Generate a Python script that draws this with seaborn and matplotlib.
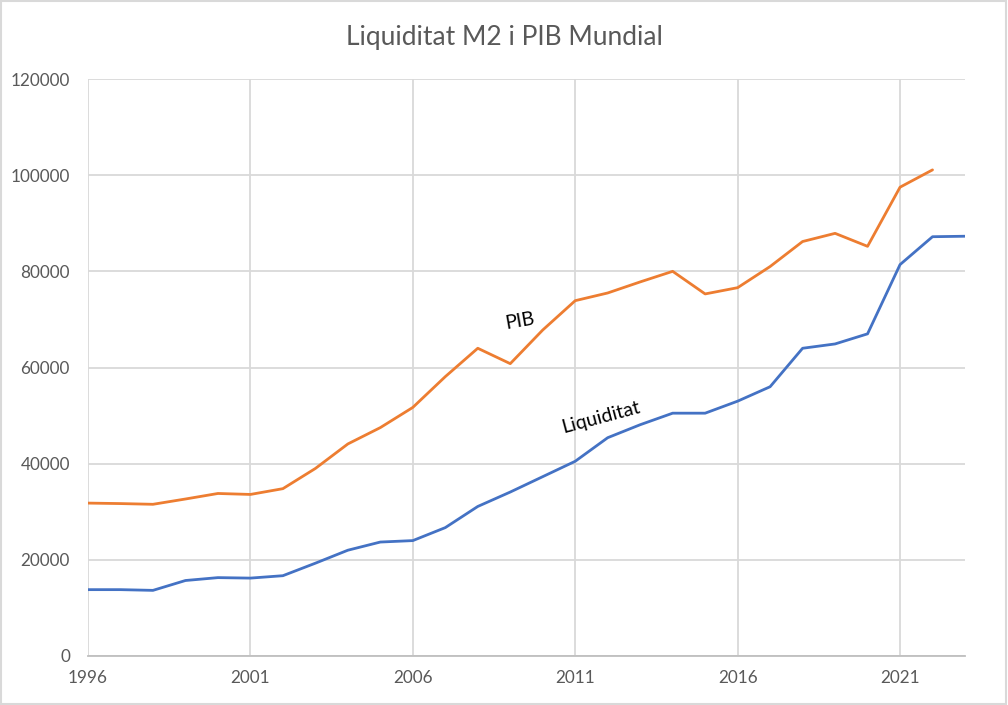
import numpy as np
import pandas as pd
import matplotlib
matplotlib.use('Agg')
import matplotlib.pyplot as plt
import seaborn as sns
from matplotlib.patches import Rectangle

# valors llegits del gràfic (anuals)
anys = list(range(1996, 2024))
liquiditat = [13800, 13800, 13650, 15700, 16300, 16200, 16700, 19300, 22000, 23700,
              24000, 26700, 31100, 34100, 37300, 40500, 45400, 48100, 50500, 50500,
              53000, 56000, 64000, 64900, 67000, 81400, 87200, 87300]
anys_pib = list(range(1996, 2023))
pib = [31800, 31700, 31550, 32650, 33800, 33600, 34800, 39000, 44100, 47500,
       51700, 58100, 64000, 60800, 67800, 73900, 75500, 77800, 80000, 75300,
       76600, 81000, 86200, 87900, 85200, 97500, 101100]

titol = 'Liquiditat M2 i PIB Mundial'
x_ticks = [1996, 2001, 2006, 2011, 2016, 2021]
y_ticks = [0, 20000, 40000, 60000, 80000, 100000, 120000]

sns.set_theme(style='white')
plt.rcParams['font.family'] = ['Lato', 'DejaVu Sans']

df_liq = pd.DataFrame({'any': anys, 'valor': liquiditat})
df_pib = pd.DataFrame({'any': anys_pib, 'valor': pib})

fig = plt.figure(figsize=(10.08, 7.05), dpi=100)
ax = fig.add_axes([88 / 1008, 1 - 656 / 705, (965 - 88) / 1008, (656 - 79) / 705])

sns.lineplot(data=df_pib, x='any', y='valor', ax=ax, color='#ED7D31', linewidth=2.0,
             solid_joinstyle='round', solid_capstyle='round')
sns.lineplot(data=df_liq, x='any', y='valor', ax=ax, color='#4472C4', linewidth=2.0,
             solid_joinstyle='round', solid_capstyle='round')

ax.set_xlim(1996, 2023)
ax.set_ylim(0, 120000)
ax.set_xticks(x_ticks)
ax.set_yticks(y_ticks)
ax.set_xticklabels([str(t) for t in x_ticks])
ax.set_yticklabels([str(t) for t in y_ticks])
ax.set_xlabel('')
ax.set_ylabel('')
ax.grid(True, color='#D9D9D9', linewidth=1.3)
ax.set_axisbelow(True)
for s in ['top', 'right', 'left']:
    ax.spines[s].set_visible(False)
ax.spines['bottom'].set_color('#BFBFBF')
ax.spines['bottom'].set_linewidth(1.3)
ax.tick_params(axis='both', length=0, labelsize=12.3, labelcolor='#595959')
ax.tick_params(axis='x', pad=10)
ax.tick_params(axis='y', pad=13)

# etiquetes de les sèries
ax.text(2009.3, 69700, 'PIB', rotation=10, fontsize=14, color='black',
        ha='center', va='center')
ax.text(2011.8, 49700, 'Liquiditat', rotation=15, fontsize=14, color='black',
        ha='center', va='center')

fig.text(0.5, 1 - 38 / 705, titol, ha='center', va='center', fontsize=19, color='#595959')

# vora del gràfic
fig.patches.append(Rectangle((0.001, 0.001), 0.997, 0.997, transform=fig.transFigure,
                             fill=False, edgecolor='#D9D9D9', linewidth=1.5))

fig.savefig('out.png', dpi=100)
